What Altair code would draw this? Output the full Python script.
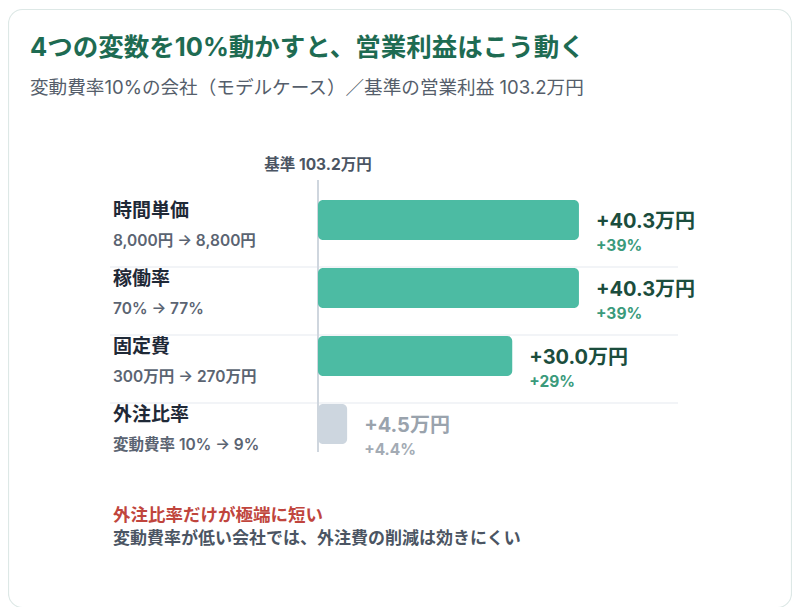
import pandas as pd
import altair as alt

FONT = "Inter, Noto Sans CJK JP, sans-serif"

# data
categories = ["時間単価", "稼働率", "固定費", "外注比率"]
changes = ["8,000円 → 8,800円", "70% → 77%", "300万円 → 270万円", "変動費率 10% → 9%"]
impact = [40.3, 40.3, 30.0, 4.5]
impact_pct = ["+39%", "+39%", "+29%", "+4.4%"]
kind = ["main", "main", "main", "minor"]

title = "4つの変数を10%動かすと、営業利益はこう動く"
subtitle = "変動費率10%の会社（モデルケース）／基準の営業利益 103.2万円"
base_label = "基準 103.2万円"
note_head = "外注比率だけが極端に短い"
note_body = "変動費率が低い会社では、外注費の削減は効きにくい"

df = pd.DataFrame({
    "cat": categories,
    "change": changes,
    "impact": impact,
    "label": [f"+{v:.1f}万円" for v in impact],
    "pct": impact_pct,
    "kind": kind,
})
df["row"] = range(len(df))
df["zero"] = 0.0
one = pd.DataFrame({"zero": [0.0]})

W, H = 360, 272
xscale = alt.Scale(domain=[0, 55.6])
x = alt.X("impact:Q", scale=xscale, axis=None)
y = alt.Y("cat:N", sort=categories, scale=alt.Scale(paddingInner=0, paddingOuter=0), axis=None)
is_main = "datum.kind == 'main'"

base = alt.Chart(df)

# card behind everything
card = alt.Chart(one).mark_rect(
    fill="white", stroke="#dde8e6", strokeWidth=1.2, cornerRadius=14
).encode(x=alt.value(-309.5), x2=alt.value(473.5), y=alt.value(-189.5), y2=alt.value(408.5))

seps = base.transform_filter("datum.row > 0").mark_rule(
    color="#eef1f4", strokeWidth=1.5, yOffset=-34
).encode(y=y, x=alt.value(-208), x2=alt.value(W))

bars = base.mark_bar(height=40, yOffset=-13, cornerRadius=5).encode(
    x=x, x2="zero:Q", y=y,
    color=alt.condition(is_main, alt.value("#4cbba3"), alt.value("#cdd6df")),
)

baseline = alt.Chart(one).mark_rule(color="#cfd6de", strokeWidth=2).encode(
    x=alt.X("zero:Q", scale=xscale, axis=None), y=alt.value(-19), y2=alt.value(253)
)
base_text = alt.Chart(one).mark_text(
    font=FONT, fontSize=15.5, fontWeight="bold", color="#4b5563", align="center", baseline="middle"
).encode(x=alt.X("zero:Q", scale=xscale, axis=None), y=alt.value(-34), text=alt.value(base_label))

names = base.mark_text(
    font=FONT, fontSize=19, fontWeight="bold", color="#1f2937", align="left", baseline="middle", dy=-22
).encode(x=alt.value(-205), y=y, text="cat:N")
subs = base.mark_text(
    font=FONT, fontSize=15.5, fontWeight=600, color="#5b6472", align="left", baseline="middle", dy=8
).encode(x=alt.value(-205), y=y, text="change:N")

vals = base.mark_text(
    font=FONT, fontSize=20, fontWeight="bold", align="left", baseline="middle", dx=17, dy=-11
).encode(x=x, y=y, text="label:N",
         color=alt.condition(is_main, alt.value("#1b4d3d"), alt.value("#9aa3ad")))
pcts = base.mark_text(
    font=FONT, fontSize=15.5, fontWeight="bold", align="left", baseline="middle", dx=17, dy=13
).encode(x=x, y=y, text="pct:N",
         color=alt.condition(is_main, alt.value("#3a9a7b"), alt.value("#a3abb4")))

def note(txt, xpos, ypos, size, weight, color):
    return alt.Chart(one).mark_text(
        font=FONT, fontSize=size, fontWeight=weight, color=color, align="left", baseline="middle"
    ).encode(x=alt.value(xpos), y=alt.value(ypos), text=alt.value(txt))

head = note(title, -288, -151, 25.5, "bold", "#1e6b52")
sub = note(subtitle, -288, -111, 18.6, "normal", "#555e6b")
foot1 = note(note_head, -205, 317, 17.5, "bold", "#c0453d")
foot2 = note(note_body, -205, 340, 17, "bold", "#4b5563")

chart = alt.layer(
    card, seps, baseline, bars, base_text, names, subs, vals, pcts, head, sub, foot1, foot2
).properties(
    width=W, height=H,
    autosize=alt.AutoSizeParams(type="none"),
    padding={"left": 310, "top": 191, "right": 114, "bottom": 136},
    background="white",
).configure_view(stroke=None)

chart.save("out.html", embed_options={"renderer": "svg", "actions": False})
